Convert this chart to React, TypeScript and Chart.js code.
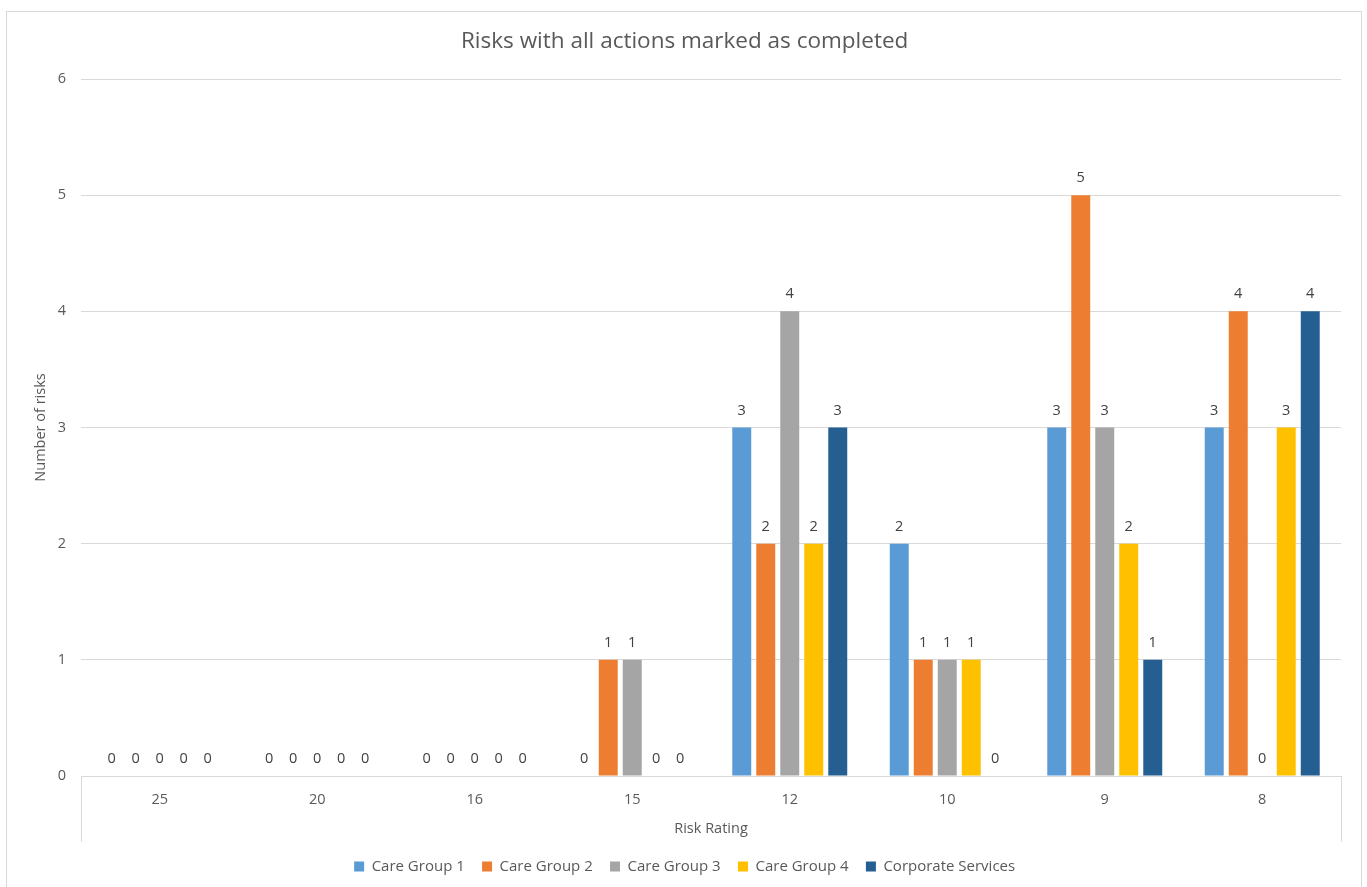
import React, { useEffect, useRef } from "react";
import { Chart, registerables, Plugin } from "chart.js";

Chart.register(...registerables);

const categories = ["25", "20", "16", "15", "12", "10", "9", "8"];
const careGroup1 = [0, 0, 0, 0, 3, 2, 3, 3];
const careGroup2 = [0, 0, 0, 1, 2, 1, 5, 4];
const careGroup3 = [0, 0, 0, 1, 4, 1, 3, 0];
const careGroup4 = [0, 0, 0, 0, 2, 1, 2, 3];
const corporateServices = [0, 0, 0, 0, 3, 0, 1, 4];
const yTicks = [0, 1, 2, 3, 4, 5, 6];

const FONT = "'Open Sans', Lato, sans-serif";
const TEXT = "#595959";
const GRID = "#d9d9d9";
const SIZE = 14.5;

// Value labels above each bar
const valueLabels: Plugin<"bar"> = {
  id: "valueLabels",
  afterDatasetsDraw(chart) {
    const ctx = chart.ctx;
    ctx.save();
    ctx.font = `${SIZE}px ${FONT}`;
    ctx.fillStyle = "#404040";
    ctx.textAlign = "center";
    ctx.textBaseline = "middle";
    chart.data.datasets.forEach((ds, di) => {
      const meta = chart.getDatasetMeta(di);
      meta.data.forEach((el: any, i) => {
        const v = ds.data[i] as number;
        ctx.fillText(String(v), el.x, el.y - 17);
      });
    });
    ctx.restore();
  },
};

// Vertical end lines of the category axis
const axisEnds: Plugin<"bar"> = {
  id: "axisEnds",
  afterDraw(chart) {
    const { ctx, chartArea } = chart;
    const xs = chart.scales.x;
    ctx.save();
    ctx.strokeStyle = GRID;
    ctx.lineWidth = 1;
    ctx.beginPath();
    [chartArea.left, chartArea.right].forEach((x) => {
      const px = Math.round(x) + 0.5;
      ctx.moveTo(px, chartArea.bottom);
      ctx.lineTo(px, xs.bottom);
    });
    ctx.stroke();
    ctx.restore();
  },
};

export default function App() {
  const ref = useRef<HTMLCanvasElement>(null);

  useEffect(() => {
    if (!ref.current) return;
    const mk = (label: string, data: number[], color: string) => ({
      label,
      data,
      backgroundColor: color,
      borderWidth: 0,
      categoryPercentage: 0.762,
      barPercentage: 0.79,
    });
    const chart = new Chart(ref.current, {
      type: "bar",
      data: {
        labels: categories,
        datasets: [
          mk("Care Group 1", careGroup1, "#5b9bd5"),
          mk("Care Group 2", careGroup2, "#ed7d31"),
          mk("Care Group 3", careGroup3, "#a5a5a5"),
          mk("Care Group 4", careGroup4, "#ffc000"),
          mk("Corporate Services", corporateServices, "#255e91"),
        ],
      },
      options: {
        responsive: false,
        animation: false,
        layout: { padding: { left: 28.3, right: 26, top: 0, bottom: 3 } },
        plugins: {
          title: {
            display: true,
            text: "Risks with all actions marked as completed",
            color: TEXT,
            font: { family: FONT, size: 22.5, weight: "normal" },
            padding: { top: 28.5, bottom: 23.5 },
          },
          legend: {
            position: "bottom",
            labels: {
              color: TEXT,
              font: { family: FONT, size: 15 },
              boxWidth: 10,
              boxHeight: 10,
              padding: 17.3,
            },
          },
          tooltip: { enabled: false },
        },
        scales: {
          x: {
            grid: { display: false },
            border: { display: false },
            ticks: { color: TEXT, font: { family: FONT, size: SIZE }, padding: 7 },
            title: {
              display: true,
              text: "Risk Rating",
              color: TEXT,
              font: { family: FONT, size: SIZE },
            },
            afterFit: (s: any) => {
              s.height = 65.7;
            },
          },
          y: {
            min: 0,
            max: 6,
            afterBuildTicks: (s: any) => {
              s.ticks = yTicks.map((v) => ({ value: v }));
            },
            grid: { color: GRID, drawTicks: false },
            border: { display: false },
            ticks: { color: TEXT, font: { family: FONT, size: SIZE }, padding: 15 },
            title: {
              display: true,
              text: "Number of risks",
              color: TEXT,
              font: { family: FONT, size: SIZE },
            },
            afterFit: (s: any) => {
              s.width = 52.7;
            },
          },
        },
      },
      plugins: [valueLabels, axisEnds],
    });
    return () => chart.destroy();
  }, []);

  return (
    <div
      style={{
        position: "absolute",
        left: 0,
        top: 0,
        width: 1367,
        height: 887,
        overflow: "hidden",
        background: "#fff",
      }}
    >
      <canvas ref={ref} width={1367} height={887} style={{ display: "block" }} />
      <div
        style={{
          position: "absolute",
          left: 6,
          top: 11,
          width: 1354,
          height: 920,
          border: "1px solid #d9d9d9",
          pointerEvents: "none",
        }}
      />
    </div>
  );
}
